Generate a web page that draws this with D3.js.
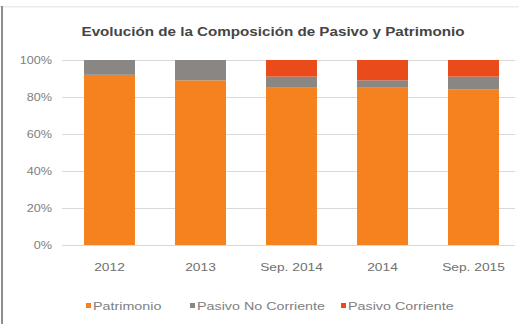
<!DOCTYPE html>
<html>
<head>
<meta charset="utf-8">
<script src="https://cdn.jsdelivr.net/npm/d3@7"></script>
<style>
  html, body { margin: 0; padding: 0; background: #fff; }
  svg { display: block; }
  text { font-family: "Liberation Sans", Arial, sans-serif; }
</style>
</head>
<body>
<svg id="chart" width="519" height="324"></svg>
<script>
// Share of total liabilities + equity per period (percent)
const categories = ["2012", "2013", "Sep. 2014", "2014", "Sep. 2015"];
const patrimonio = [92, 89, 85, 85, 84];
const pasivoNoCorriente = [8, 11, 6, 4, 7];
const pasivoCorriente = [0, 0, 9, 11, 9];
const seriesNames = ["Patrimonio", "Pasivo No Corriente", "Pasivo Corriente"];
const seriesColors = ["#F5821F", "#8A8683", "#EA4B1A"];
const yTicks = [0, 20, 40, 60, 80, 100];
const title = "Evolución de la Composición de  Pasivo y Patrimonio";

const svg = d3.select("#chart");

// widen text horizontally to the given factor of its natural width
function stretch(sel, factor) {
  sel.each(function () {
    const w = this.getComputedTextLength();
    d3.select(this).attr("textLength", w * factor).attr("lengthAdjust", "spacingAndGlyphs");
  });
}

// frame edges
svg.append("rect").attr("x", 0).attr("y", 6).attr("width", 519).attr("height", 1.5).attr("fill", "#ececec");
svg.append("rect").attr("x", 1).attr("y", 6).attr("width", 2).attr("height", 318).attr("fill", "#8e8e8e");

const rows = categories.map((c, i) => ({
  cat: c,
  [seriesNames[0]]: patrimonio[i],
  [seriesNames[1]]: pasivoNoCorriente[i],
  [seriesNames[2]]: pasivoCorriente[i]
}));

const x = d3.scaleBand().domain(categories).range([64, 519]).paddingInner(0.44).paddingOuter(0.22);
const y = d3.scaleLinear().domain([0, 100]).range([245, 60]);

// title
svg.append("text")
  .attr("x", 273).attr("y", 36)
  .attr("text-anchor", "middle")
  .attr("font-size", 12.5).attr("font-weight", "bold")
  .attr("fill", "#454545")
  .attr("textLength", 383).attr("lengthAdjust", "spacingAndGlyphs")
  .text(title);

// gridlines + y labels
const yAxis = d3.axisLeft(y).tickValues(yTicks).tickFormat(d => d + "%").tickSize(-453).tickPadding(10);
const gy = svg.append("g").attr("transform", "translate(62,0)").call(yAxis);
gy.select(".domain").remove();
gy.selectAll(".tick line").attr("stroke", "#d9d9d9").attr("stroke-width", 1.2);
gy.selectAll(".tick text").attr("fill", "#808080").attr("font-size", 10.5).call(stretch, 1.2);

// stacked bars
const stack = d3.stack().keys(seriesNames);
const layers = stack(rows);
svg.append("g").selectAll("g")
  .data(layers)
  .join("g")
  .attr("fill", (d, i) => seriesColors[i])
  .selectAll("rect")
  .data(d => d)
  .join("rect")
  .attr("x", d => x(d.data.cat))
  .attr("width", x.bandwidth())
  .attr("y", d => y(d[1]))
  .attr("height", d => y(d[0]) - y(d[1]));

// category labels
const xAxis = d3.axisBottom(x).tickSize(0).tickPadding(18);
const gx = svg.append("g").attr("transform", "translate(0,245)").call(xAxis);
gx.select(".domain").remove();
gx.selectAll(".tick text").attr("fill", "#707070").attr("font-size", 11).call(stretch, 1.25);

// legend
const legendX = [86, 190, 341];
const legend = svg.append("g").selectAll("g")
  .data(seriesNames)
  .join("g")
  .attr("transform", (d, i) => `translate(${legendX[i]},306)`);
legend.append("rect").attr("x", 0).attr("y", -3).attr("width", 5).attr("height", 5)
  .attr("fill", (d, i) => seriesColors[i]);
legend.append("text").attr("x", 7).attr("y", 3.5)
  .attr("font-size", 11).attr("fill", "#808080")
  .text(d => d)
  .call(stretch, 1.3);
</script>
</body>
</html>
